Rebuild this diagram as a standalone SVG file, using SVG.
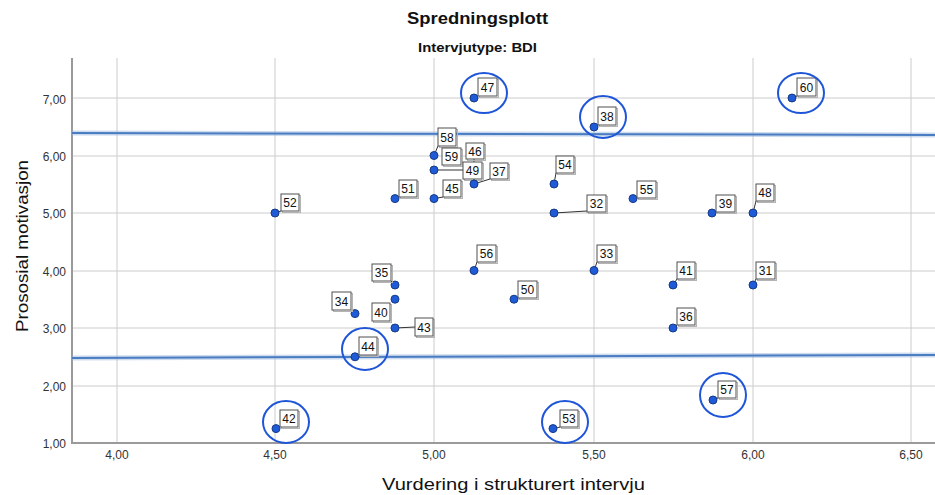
<svg xmlns="http://www.w3.org/2000/svg" width="935" height="495" viewBox="0 0 935 495">
<style>
.grid{stroke:#cccccc;stroke-width:1;fill:none}
.axis{stroke:#9a9a9a;stroke-width:2;fill:none}
.ref{stroke:#4a7cc2;stroke-width:2;fill:none}
.refh{stroke:#9bb8e0;stroke-width:5;fill:none;opacity:0.5}
.pt{fill:#1f5bd6;stroke:#163a86;stroke-width:1}
.bx{fill:#ffffff;stroke:#505050;stroke-width:1}
.sh{fill:none;stroke:#b4b4b4;stroke-width:1}
.lt{font-family:"Liberation Sans",Arial,sans-serif;font-size:12px;fill:#111;text-anchor:middle}
.hl{fill:none;stroke:#1f56d8;stroke-width:2}
.ld{stroke:#333;stroke-width:1;fill:none}
.tk{font-family:"Liberation Sans",Arial,sans-serif;font-size:12px;fill:#333}
.ttl{font-family:"Liberation Sans",Arial,sans-serif;font-weight:bold;fill:#111}
.axl{font-family:"Liberation Sans",Arial,sans-serif;fill:#111}
</style>
<rect width="935" height="495" fill="#ffffff"/>
<g id="titles">
<text class="ttl" x="407" y="24" font-size="16" textLength="141" lengthAdjust="spacingAndGlyphs">Spredningsplott</text>
<text class="ttl" x="418" y="52" font-size="12.5" textLength="119" lengthAdjust="spacingAndGlyphs">Intervjutype: BDI</text>
</g>
<g id="grid">
<path class="grid" d="M117 58V443M275 58V443M434 58V443M594 58V443M753 58V443M911 58V443"/>
<path class="grid" d="M72 98H935M72 156H935M72 213H935M72 271H935M72 328H935M72 386H935"/>
</g>
<g id="axes">
<path class="axis" d="M72 58V443H935"/>
<g class="tk" text-anchor="end">
<text x="66" y="104">7,00</text>
<text x="66" y="161">6,00</text>
<text x="66" y="218">5,00</text>
<text x="66" y="276">4,00</text>
<text x="66" y="333">3,00</text>
<text x="66" y="391">2,00</text>
<text x="66" y="448">1,00</text>
</g>
<g class="tk" text-anchor="middle">
<text x="117" y="459">4,00</text>
<text x="275" y="459">4,50</text>
<text x="434" y="459">5,00</text>
<text x="594" y="459">5,50</text>
<text x="753" y="459">6,00</text>
<text x="911" y="459">6,50</text>
</g>
<text class="axl" x="382" y="490" font-size="16.5" textLength="263" lengthAdjust="spacingAndGlyphs">Vurdering i strukturert intervju</text>
<text class="axl" transform="translate(28,332) rotate(-90)" x="0" y="0" font-size="17" textLength="172" lengthAdjust="spacingAndGlyphs">Prososial motivasjon</text>
</g>
<g id="reference-lines">
<path class="refh" d="M72 133L935 135"/>
<path class="ref" d="M72 133L935 135"/>
<path class="refh" d="M72 358L935 355"/>
<path class="ref" d="M72 358L935 355"/>
</g>
<g id="connectors">
<path class="ld" d="M474 98L478 96M594 127L598 125M792 98L797 96"/>
<path class="ld" d="M434 155.5L438 146M434 170L463 170M474 184L474 159M474 184L490 179M434 198.6L443 197"/>
<path class="ld" d="M554 184L556 173M554 213L587 211M633 198.6L637 198M712 213L716 212M753 213L756 201"/>
<path class="ld" d="M275 213L281 211M395 198.6L399 197M395 285L391 281M395 328L415 327M355 357L359 355"/>
<path class="ld" d="M474 270.5L477 262M514 299L518 298M594 270.5L597 262M673 285L677 279M753 285L756 279M673 328L677 325"/>
<path class="ld" d="M713 400L718 398M276 429L280 427M553 429L560 427"/>
</g>
<g id="p47"><circle class="pt" cx="474" cy="98" r="4"/><rect class="sh" x="479.5" y="79.5" width="19" height="18"/><rect class="bx" x="478" y="78" width="19" height="18"/><text class="lt" x="487.5" y="91.5">47</text><ellipse class="hl" cx="484" cy="93" rx="23" ry="20"/></g>
<g id="p38"><circle class="pt" cx="594" cy="127" r="4"/><rect class="sh" x="599.5" y="108.5" width="18" height="18"/><rect class="bx" x="598" y="107" width="18" height="18"/><text class="lt" x="607" y="120.5">38</text><ellipse class="hl" cx="603" cy="117" rx="23" ry="21"/></g>
<g id="p60"><circle class="pt" cx="792" cy="98" r="4"/><rect class="sh" x="798.5" y="79.5" width="19" height="18"/><rect class="bx" x="797" y="78" width="19" height="18"/><text class="lt" x="806.5" y="91.5">60</text><ellipse class="hl" cx="801" cy="93" rx="23" ry="20"/></g>
<g id="p58"><circle class="pt" cx="434" cy="155.5" r="4"/><rect class="sh" x="439.5" y="129.5" width="18" height="18"/><rect class="bx" x="438" y="128" width="18" height="18"/><text class="lt" x="447" y="141.5">58</text></g>
<g id="p59"><circle class="pt" cx="434" cy="170" r="4"/><rect class="sh" x="443.5" y="149.5" width="19" height="17"/><rect class="bx" x="442" y="148" width="19" height="17"/><text class="lt" x="451.5" y="161">59</text></g>
<g id="p46"><rect class="sh" x="467.5" y="144.5" width="18" height="16"/><rect class="bx" x="466" y="143" width="18" height="16"/><text class="lt" x="475" y="155.5">46</text></g>
<g id="p49"><rect class="sh" x="464.5" y="163.5" width="19" height="17"/><rect class="bx" x="463" y="162" width="19" height="17"/><text class="lt" x="472.5" y="175">49</text></g>
<g id="p37"><circle class="pt" cx="474" cy="184" r="4"/><rect class="sh" x="491.5" y="164.5" width="18" height="16"/><rect class="bx" x="490" y="163" width="18" height="16"/><text class="lt" x="499" y="175.5">37</text></g>
<g id="p45"><circle class="pt" cx="434" cy="198.6" r="4"/><rect class="sh" x="444.5" y="181.5" width="18" height="17"/><rect class="bx" x="443" y="180" width="18" height="17"/><text class="lt" x="452" y="193">45</text></g>
<g id="p51"><circle class="pt" cx="395" cy="198.6" r="4"/><rect class="sh" x="400.5" y="181.5" width="18" height="17"/><rect class="bx" x="399" y="180" width="18" height="17"/><text class="lt" x="408" y="193">51</text></g>
<g id="p52"><circle class="pt" cx="275" cy="213" r="4"/><rect class="sh" x="282.5" y="195.5" width="18" height="17"/><rect class="bx" x="281" y="194" width="18" height="17"/><text class="lt" x="290" y="207">52</text></g>
<g id="p54"><circle class="pt" cx="554" cy="184" r="4"/><rect class="sh" x="557.5" y="157.5" width="18" height="17"/><rect class="bx" x="556" y="156" width="18" height="17"/><text class="lt" x="565" y="169">54</text></g>
<g id="p32"><circle class="pt" cx="554" cy="213" r="4"/><rect class="sh" x="588.5" y="196.5" width="19" height="17"/><rect class="bx" x="587" y="195" width="19" height="17"/><text class="lt" x="596.5" y="208">32</text></g>
<g id="p55"><circle class="pt" cx="633" cy="198.6" r="4"/><rect class="sh" x="638.5" y="182.5" width="19" height="17"/><rect class="bx" x="637" y="181" width="19" height="17"/><text class="lt" x="646.5" y="194">55</text></g>
<g id="p39"><circle class="pt" cx="712" cy="213" r="4"/><rect class="sh" x="717.5" y="196.5" width="19" height="17"/><rect class="bx" x="716" y="195" width="19" height="17"/><text class="lt" x="725.5" y="208">39</text></g>
<g id="p48"><circle class="pt" cx="753" cy="213" r="4"/><rect class="sh" x="757.5" y="185.5" width="18" height="17"/><rect class="bx" x="756" y="184" width="18" height="17"/><text class="lt" x="765" y="197">48</text></g>
<g id="p56"><circle class="pt" cx="474" cy="270.5" r="4"/><rect class="sh" x="478.5" y="246.5" width="19" height="17"/><rect class="bx" x="477" y="245" width="19" height="17"/><text class="lt" x="486.5" y="258">56</text></g>
<g id="p33"><circle class="pt" cx="594" cy="270.5" r="4"/><rect class="sh" x="598.5" y="246.5" width="19" height="17"/><rect class="bx" x="597" y="245" width="19" height="17"/><text class="lt" x="606.5" y="258">33</text></g>
<g id="p41"><circle class="pt" cx="673" cy="285" r="4"/><rect class="sh" x="678.5" y="263.5" width="18" height="17"/><rect class="bx" x="677" y="262" width="18" height="17"/><text class="lt" x="686" y="275">41</text></g>
<g id="p31"><circle class="pt" cx="753" cy="285" r="4"/><rect class="sh" x="757.5" y="263.5" width="19" height="17"/><rect class="bx" x="756" y="262" width="19" height="17"/><text class="lt" x="765.5" y="275">31</text></g>
<g id="p35"><circle class="pt" cx="395" cy="285" r="4"/><rect class="sh" x="373.5" y="265.5" width="19" height="17"/><rect class="bx" x="372" y="264" width="19" height="17"/><text class="lt" x="381.5" y="277">35</text></g>
<g id="p40"><circle class="pt" cx="395" cy="299.2" r="4"/><rect class="sh" x="373.5" y="304.5" width="18" height="18"/><rect class="bx" x="372" y="303" width="18" height="18"/><text class="lt" x="381" y="316.5">40</text></g>
<g id="p50"><circle class="pt" cx="514" cy="299.2" r="4"/><rect class="sh" x="519.5" y="282.5" width="19" height="17"/><rect class="bx" x="518" y="281" width="19" height="17"/><text class="lt" x="527.5" y="294">50</text></g>
<g id="p34"><circle class="pt" cx="355" cy="313.6" r="4"/><rect class="sh" x="333.5" y="293.5" width="19" height="18"/><rect class="bx" x="332" y="292" width="19" height="18"/><text class="lt" x="341.5" y="305.5">34</text></g>
<g id="p43"><circle class="pt" cx="395" cy="328" r="4"/><rect class="sh" x="416.5" y="319.5" width="18" height="18"/><rect class="bx" x="415" y="318" width="18" height="18"/><text class="lt" x="424" y="331.5">43</text></g>
<g id="p36"><circle class="pt" cx="673" cy="328" r="4"/><rect class="sh" x="678.5" y="309.5" width="18" height="17"/><rect class="bx" x="677" y="308" width="18" height="17"/><text class="lt" x="686" y="321">36</text></g>
<g id="p44"><circle class="pt" cx="355" cy="356.8" r="4"/><rect class="sh" x="360.5" y="338.5" width="18" height="18"/><rect class="bx" x="359" y="337" width="18" height="18"/><text class="lt" x="368" y="350.5">44</text><ellipse class="hl" cx="365" cy="349" rx="23" ry="21"/></g>
<g id="p57"><circle class="pt" cx="713" cy="400" r="4"/><rect class="sh" x="719.5" y="382.5" width="18" height="17"/><rect class="bx" x="718" y="381" width="18" height="17"/><text class="lt" x="727" y="394">57</text><ellipse class="hl" cx="723" cy="395" rx="23" ry="22"/></g>
<g id="p42"><circle class="pt" cx="276" cy="428.6" r="4"/><rect class="sh" x="281.5" y="411.5" width="18" height="17"/><rect class="bx" x="280" y="410" width="18" height="17"/><text class="lt" x="289" y="423">42</text><ellipse class="hl" cx="286" cy="422" rx="23" ry="21"/></g>
<g id="p53"><circle class="pt" cx="553" cy="428.6" r="4"/><rect class="sh" x="561.5" y="411.5" width="18" height="17"/><rect class="bx" x="560" y="410" width="18" height="17"/><text class="lt" x="569" y="423">53</text><ellipse class="hl" cx="565" cy="422" rx="23" ry="21"/></g>
</svg>
